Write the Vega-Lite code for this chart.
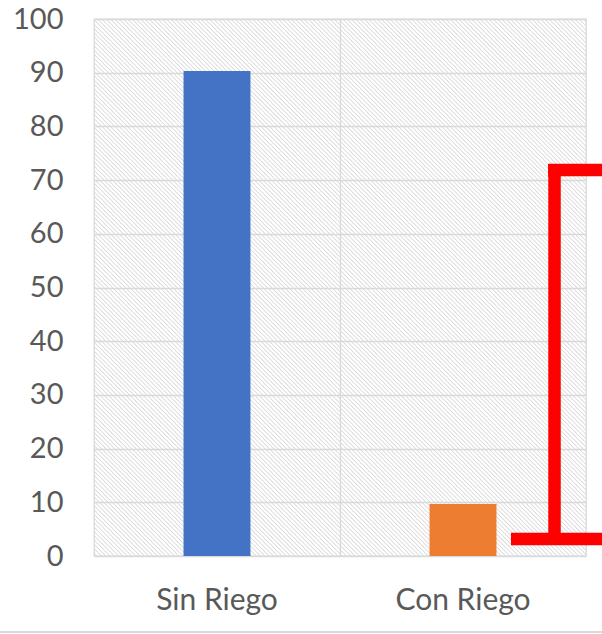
{
  "$schema": "https://vega.github.io/schema/vega-lite/v6.json",
  "width": 492,
  "height": 537,
  "autosize": {"type": "none"},
  "padding": {"left": 94, "top": 19, "right": 16, "bottom": 78},
  "background": "white",
  "config": {
    "view": {"stroke": "#d9d9d9", "strokeWidth": 1.3},
    "font": "Lato",
    "axisY": {
      "grid": true,
      "gridColor": "#d9d9d9",
      "gridWidth": 1.3,
      "domain": false,
      "ticks": false,
      "tickSize": 0,
      "labelPadding": 31,
      "labelFontSize": 29,
      "labelColor": "#595959"
    }
  },
  "datasets": {
    "riego": [
      {"tratamiento": "Sin Riego", "valor": 90.3},
      {"tratamiento": "Con Riego", "valor": 9.7}
    ],
    "corchete": [
      {"x0": 1.872, "x1": 1.872, "y0": 73.0, "y1": 3.17},
      {"x0": 1.846, "x1": 2.07, "y0": 71.88, "y1": 71.88},
      {"x0": 1.695, "x1": 2.07, "y0": 3.17, "y1": 3.17}
    ]
  },
  "layer": [
    {
      "description": "Diagonal hatch filling the plot background",
      "data": {"values": [{}]},
      "mark": {
        "type": "rule",
        "clip": true,
        "stroke": "#dadada",
        "strokeWidth": 760,
        "strokeDash": [0.9, 2.14],
        "strokeCap": "butt"
      },
      "encoding": {
        "x": {
          "datum": -0.626,
          "type": "quantitative",
          "scale": {"domain": [0, 2], "nice": false, "zero": false},
          "axis": {
            "orient": "top",
            "grid": true,
            "values": [1],
            "labels": false,
            "ticks": false,
            "domain": false,
            "title": null,
            "gridColor": "#d9d9d9",
            "gridWidth": 1.3
          }
        },
        "x2": {"datum": 2.626},
        "y": {
          "datum": -24.49,
          "type": "quantitative",
          "scale": {"domain": [0, 100], "nice": false, "zero": false},
          "axis": {"title": null, "values": [0, 10, 20, 30, 40, 50, 60, 70, 80, 90, 100]}
        },
        "y2": {"datum": 124.49}
      }
    },
    {
      "description": "Red bracket annotation and the bottom frame line of the chart area",
      "layer": [
        {
          "data": {"name": "corchete"},
          "mark": {"type": "rule", "color": "#ff0000", "strokeWidth": 12.5, "strokeCap": "butt", "clip": false},
          "encoding": {
            "x": {"field": "x0", "type": "quantitative"},
            "x2": {"field": "x1"},
            "y": {"field": "y0", "type": "quantitative"},
            "y2": {"field": "y1"}
          }
        },
        {
          "data": {"values": [{}]},
          "mark": {"type": "rule", "color": "#d9d9d9", "strokeWidth": 2, "strokeCap": "butt", "clip": false},
          "encoding": {
            "x": {"datum": -0.4, "type": "quantitative"},
            "x2": {"datum": 2.1},
            "y": {"datum": -14.15, "type": "quantitative"}
          }
        }
      ],
      "encoding": {
        "x": {
          "type": "quantitative",
          "scale": {"domain": [0, 2], "nice": false, "zero": false},
          "axis": null
        },
        "y": {
          "type": "quantitative",
          "scale": {"domain": [0, 100], "nice": false, "zero": false},
          "axis": {"title": null, "values": [0, 10, 20, 30, 40, 50, 60, 70, 80, 90, 100]}
        }
      }
    },
    {
      "data": {"name": "riego"},
      "mark": {"type": "bar"},
      "encoding": {
        "x": {
          "field": "tratamiento",
          "type": "nominal",
          "sort": null,
          "scale": {"paddingInner": 0.728, "paddingOuter": 0.364},
          "axis": {
            "orient": "bottom",
            "title": null,
            "labelAngle": 0,
            "labelFontSize": 30,
            "labelColor": "#595959",
            "labelPadding": 29,
            "ticks": false,
            "tickSize": 0,
            "domain": false,
            "grid": false
          }
        },
        "y": {
          "field": "valor",
          "type": "quantitative",
          "scale": {"domain": [0, 100], "nice": false, "zero": false},
          "axis": {"title": null, "values": [0, 10, 20, 30, 40, 50, 60, 70, 80, 90, 100]}
        },
        "color": {
          "field": "tratamiento",
          "type": "nominal",
          "sort": null,
          "scale": {"domain": ["Sin Riego", "Con Riego"], "range": ["#4472c4", "#ed7d31"]},
          "legend": null
        }
      }
    }
  ],
  "resolve": {"scale": {"x": "independent", "color": "independent"}}
}
